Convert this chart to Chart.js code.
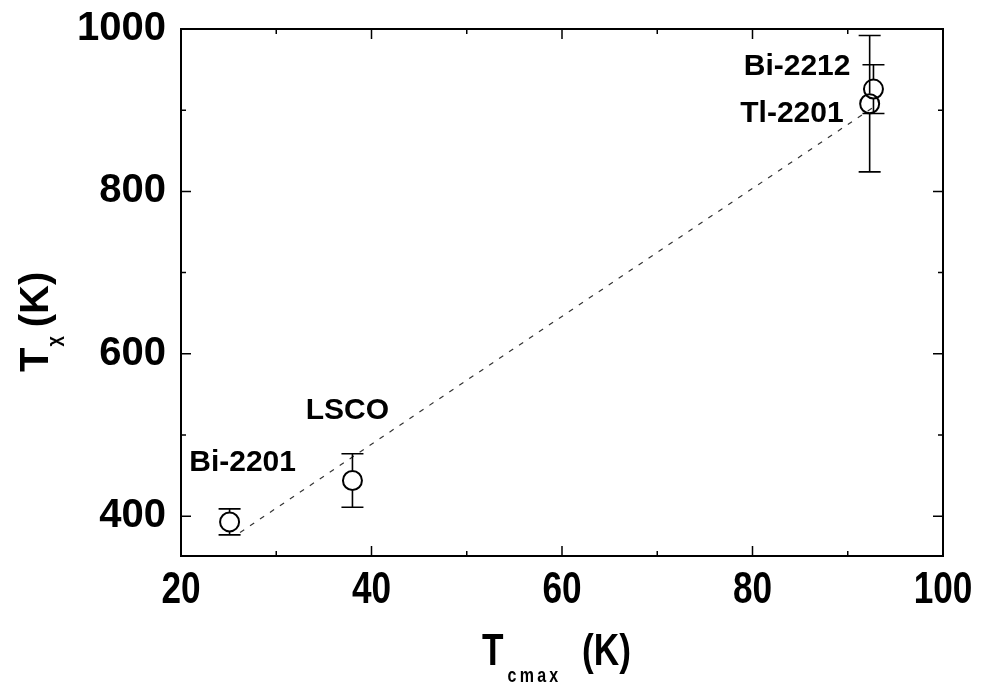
<!DOCTYPE html>
<html>
<head>
<meta charset="utf-8">
<script src="https://cdn.jsdelivr.net/npm/chart.js@4/dist/chart.umd.min.js"></script>
<style>
  html, body { margin: 0; padding: 0; background: #fff; }
  #wrap { width: 981px; height: 686px; }
</style>
</head>
<body>
<div id="wrap"><canvas id="chart" width="981" height="686"></canvas></div>
<script>
// data
const samples = ["Bi-2201", "LSCO", "Tl-2201", "Bi-2212"];
const tcmax = [25.1, 38.0, 92.3, 92.7];
const tchi = [393, 444, 908, 926];
const tchiErr = [16, 33, 84, 30];
const fitX = [26.2, 93.0];
const fitY = [380, 906];
const xTicks = [20, 40, 60, 80, 100];
const yTicks = [400, 600, 800, 1000];
const xMinor = [30, 50, 70, 90];
const yMinor = [500, 700, 900];

const boldWide = "'Liberation Sans', Arial, sans-serif";
const narrow = 0.8; // the x axis text is a condensed face

// where each label sits relative to its point
const labelPos = {
  "Bi-2201": { dx: 13, dy: -59, align: "center" },
  "LSCO": { dx: -5, dy: -70, align: "center" },
  "Tl-2201": { dx: -26, dy: 10, align: "right" },
  "Bi-2212": { dx: -23, dy: -22, align: "right" }
};

const extras = {
  id: "extras",
  afterDatasetsDraw(c) {
    const ctx = c.ctx;
    const xs = c.scales.x, ys = c.scales.y;
    const a = c.chartArea;
    ctx.save();

    // error bars
    ctx.strokeStyle = "#000";
    ctx.lineWidth = 1.6;
    for (let i = 0; i < samples.length; i++) {
      const px = xs.getPixelForValue(tcmax[i]);
      const top = ys.getPixelForValue(tchi[i] + tchiErr[i]);
      const bot = ys.getPixelForValue(tchi[i] - tchiErr[i]);
      const cy = ys.getPixelForValue(tchi[i]);
      ctx.beginPath();
      ctx.moveTo(px, top); ctx.lineTo(px, cy - 10);
      ctx.moveTo(px, cy + 10); ctx.lineTo(px, bot);
      ctx.moveTo(px - 11, top); ctx.lineTo(px + 11, top);
      ctx.moveTo(px - 11, bot); ctx.lineTo(px + 11, bot);
      ctx.stroke();
    }

    // frame
    ctx.lineWidth = 2;
    ctx.strokeRect(a.left, a.top, a.right - a.left, a.bottom - a.top);

    // inward ticks on all four sides
    ctx.lineWidth = 1.5;
    ctx.beginPath();
    const tickX = (v, len) => {
      const p = xs.getPixelForValue(v);
      ctx.moveTo(p, a.bottom); ctx.lineTo(p, a.bottom - len);
      ctx.moveTo(p, a.top); ctx.lineTo(p, a.top + len);
    };
    const tickY = (v, len) => {
      const p = ys.getPixelForValue(v);
      ctx.moveTo(a.left, p); ctx.lineTo(a.left + len, p);
      ctx.moveTo(a.right, p); ctx.lineTo(a.right - len, p);
    };
    xTicks.forEach(v => tickX(v, 10));
    xMinor.forEach(v => tickX(v, 5));
    yTicks.forEach(v => tickY(v, 10));
    yMinor.forEach(v => tickY(v, 5));
    ctx.stroke();

    // x tick labels, condensed, at the scale's own tick positions
    ctx.fillStyle = "#000";
    ctx.font = "bold 44px " + boldWide;
    ctx.textAlign = "center";
    ctx.textBaseline = "alphabetic";
    xs.ticks.forEach((t, i) => {
      const p = xs.getPixelForTick(i);
      ctx.save();
      ctx.translate(p, a.bottom + 47);
      ctx.scale(narrow, 1);
      ctx.fillText(String(t.value), 0, 0);
      ctx.restore();
    });

    // point labels
    ctx.font = "bold 30px " + boldWide;
    ctx.textBaseline = "middle";
    for (let i = 0; i < samples.length; i++) {
      const lp = labelPos[samples[i]];
      ctx.textAlign = lp.align;
      ctx.fillText(samples[i], xs.getPixelForValue(tcmax[i]) + lp.dx, ys.getPixelForValue(tchi[i]) + lp.dy);
    }

    // y title: T_chi (K), rotated
    ctx.save();
    ctx.translate(48, 372);
    ctx.rotate(-Math.PI / 2);
    ctx.textAlign = "left";
    ctx.textBaseline = "alphabetic";
    ctx.font = "bold 40px " + boldWide;
    ctx.fillText("T", 0, 0);
    let w = ctx.measureText("T").width;
    ctx.font = "bold 18px " + boldWide;
    ctx.fillText("\u03c7", w + 1, 12);
    w += ctx.measureText("\u03c7").width + 10;
    ctx.font = "bold 40px " + boldWide;
    ctx.fillText("(K)", w, 0);
    ctx.restore();

    // x title: T_cmax (K), condensed
    ctx.save();
    ctx.translate(482, 665);
    ctx.scale(narrow, 1);
    ctx.textAlign = "left";
    ctx.textBaseline = "alphabetic";
    ctx.font = "bold 44px " + boldWide;
    ctx.fillText("T", 0, 0);
    ctx.font = "bold 20px " + boldWide;
    ctx.letterSpacing = "4px";
    ctx.fillText("cmax", 32, 17);
    ctx.letterSpacing = "0px";
    ctx.font = "bold 44px " + boldWide;
    ctx.fillText("(K)", 125, 0);
    ctx.restore();

    ctx.restore();
  }
};

new Chart(document.getElementById("chart"), {
  type: "scatter",
  data: {
    datasets: [
      {
        label: "fit",
        type: "line",
        data: fitX.map((x, i) => ({ x: x, y: fitY[i] })),
        borderColor: "#333",
        borderWidth: 1.2,
        borderDash: [5, 7],
        pointRadius: 0,
        fill: false
      },
      {
        label: "Tchi",
        data: tcmax.map((x, i) => ({ x: x, y: tchi[i] })),
        pointStyle: "circle",
        pointRadius: 9.5,
        pointBorderWidth: 2,
        pointBorderColor: "#000",
        pointBackgroundColor: "rgba(0,0,0,0)"
      }
    ]
  },
  options: {
    responsive: false,
    animation: false,
    layout: { padding: { top: 29, right: 38, left: 0, bottom: 0 } },
    plugins: { legend: { display: false }, tooltip: { enabled: false } },
    scales: {
      x: {
        type: "linear",
        min: 20, max: 100,
        afterBuildTicks: s => { s.ticks = xTicks.map(v => ({ value: v })); },
        afterFit: s => { s.height = 130; s.paddingLeft = 0; s.paddingRight = 0; },
        grid: { display: false, drawTicks: false },
        border: { display: false },
        ticks: { display: false }
      },
      y: {
        type: "linear",
        min: 351, max: 1000,
        afterBuildTicks: s => { s.ticks = yTicks.map(v => ({ value: v })); },
        afterFit: s => { s.width = 181; s.paddingTop = 0; s.paddingBottom = 0; },
        grid: { display: false, drawTicks: false },
        border: { display: false },
        ticks: {
          padding: 15,
          color: "#000",
          font: { family: boldWide, size: 40, weight: "bold" },
          callback: v => String(v)
        }
      }
    }
  },
  plugins: [extras]
});
</script>
</body>
</html>
